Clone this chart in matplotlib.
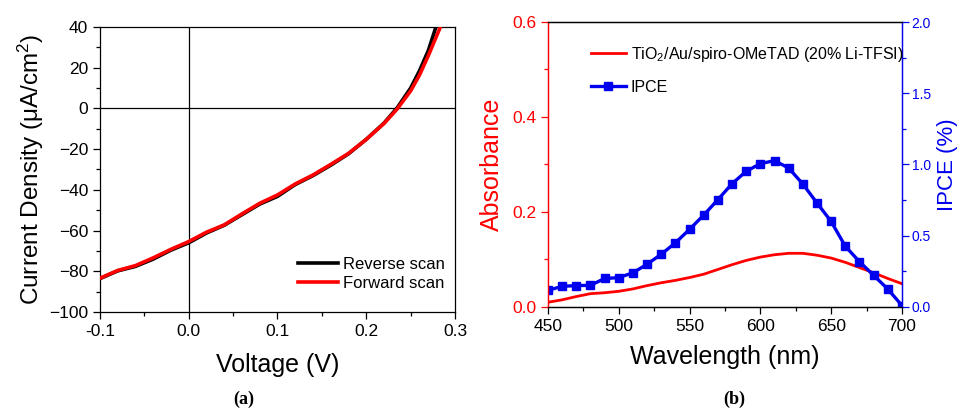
import numpy as np
import matplotlib
matplotlib.use("Agg")
import matplotlib.pyplot as plt
from matplotlib.ticker import MultipleLocator, FormatStrFormatter

plt.rcParams["font.family"] = ["Liberation Sans", "DejaVu Sans"]
plt.rcParams["mathtext.fontset"] = "custom"
plt.rcParams["mathtext.rm"] = "Liberation Sans"
plt.rcParams["mathtext.it"] = "Liberation Sans"

# (a) J-V curves
v_rev = [-0.1, -0.08, -0.06, -0.04, -0.02, 0.0, 0.02, 0.04, 0.06, 0.08, 0.10,
         0.12, 0.14, 0.16, 0.18, 0.20, 0.22, 0.235, 0.25, 0.26, 0.27, 0.2785]
j_rev = [-83.6, -79.8, -77.6, -74.0, -69.6, -66.0, -61.2, -57.4, -52.2, -47.0,
         -43.2, -37.4, -33.0, -27.9, -22.3, -15.2, -7.2, 0.4, 10.0, 18.5, 28.5, 40.0]
v_fwd = [-0.1, -0.08, -0.06, -0.04, -0.02, 0.0, 0.02, 0.04, 0.06, 0.08, 0.10,
         0.12, 0.14, 0.16, 0.18, 0.20, 0.22, 0.235, 0.25, 0.26, 0.27, 0.2835]
j_fwd = [-83.4, -79.6, -77.2, -73.4, -69.2, -65.4, -60.8, -57.2, -51.8, -46.6,
         -42.5, -37.1, -32.7, -27.5, -22.1, -15.2, -7.4, -0.2, 8.6, 16.4, 26.0, 40.0]

# (b) absorbance + IPCE
wavelength = list(range(450, 701, 10))
absorbance = [0.010, 0.015, 0.022, 0.028, 0.030, 0.033, 0.038, 0.045, 0.051,
              0.056, 0.062, 0.069, 0.079, 0.089, 0.098, 0.105, 0.110, 0.113,
              0.113, 0.109, 0.103, 0.094, 0.083, 0.072, 0.060, 0.049]
ipce = [0.117, 0.145, 0.150, 0.152, 0.200, 0.206, 0.240, 0.300, 0.370, 0.450,
        0.545, 0.645, 0.753, 0.865, 0.952, 1.006, 1.027, 0.975, 0.863, 0.730,
        0.600, 0.426, 0.318, 0.222, 0.126, 0.010]

fig = plt.figure(figsize=(9.63, 4.12), dpi=100)

# ---- panel a
ax1 = fig.add_axes([0.1038, 0.2427, 0.3687, 0.6918])
ax1.axhline(0, color="black", lw=0.9, zorder=1)
ax1.axvline(0, color="black", lw=0.9, zorder=1)
ax1.plot(v_rev, j_rev, color="black", lw=2.6, label="Reverse scan", zorder=3)
ax1.plot(v_fwd, j_fwd, color="#ff0000", lw=2.6, label="Forward scan", zorder=4)
ax1.set_xlim(-0.1, 0.3)
ax1.set_ylim(-100, 40)
ax1.xaxis.set_minor_locator(MultipleLocator(0.05))
ax1.yaxis.set_major_locator(MultipleLocator(20))
ax1.yaxis.set_minor_locator(MultipleLocator(10))
ax1.set_xticks([-0.1, 0.0, 0.1, 0.2, 0.3])
ax1.set_xticklabels(["-0.1", "0.0", "0.1", "0.2", "0.3"])
ax1.tick_params(which="both", direction="out", top=False, right=False,
                labelsize=12.5, width=0.9)
ax1.tick_params(which="major", length=5)
ax1.tick_params(which="minor", length=3)
ax1.set_xlabel("Voltage (V)", fontsize=18, labelpad=10)
ax1.set_ylabel(r"Current Density ($\mu$A/cm$^2$)", fontsize=17.5, labelpad=2)
for s in ax1.spines.values():
    s.set_linewidth(0.9)
ax1.legend(loc="lower right", bbox_to_anchor=(1.0, 0.04), frameon=False,
           fontsize=12, handlelength=2.4, handletextpad=0.3, labelspacing=0.2,
           borderaxespad=0.2)
fig.text(0.253, 0.02, "(a)", fontsize=13, fontweight="bold",
         family="Liberation Serif", ha="center")

# ---- panel b
ax2 = fig.add_axes([0.569, 0.2549, 0.3676, 0.6917])
ax3 = ax2.twinx()
red = "#ff0000"
blue = "#0000ee"
l1, = ax2.plot(wavelength, absorbance, color=red, lw=2.0,
               label=r"TiO$_2$/Au/spiro-OMeTAD (20% Li-TFSI)")
l2, = ax3.plot(wavelength, ipce, color=blue, lw=2.4, marker="s",
               markersize=6, label="IPCE")
ax2.set_xlim(450, 700)
ax2.set_ylim(0, 0.6)
ax3.set_ylim(0, 2.0)
ax2.xaxis.set_major_locator(MultipleLocator(50))
ax2.xaxis.set_minor_locator(MultipleLocator(25))
ax2.yaxis.set_major_locator(MultipleLocator(0.2))
ax2.yaxis.set_minor_locator(MultipleLocator(0.1))
ax3.yaxis.set_major_locator(MultipleLocator(0.5))
ax3.yaxis.set_minor_locator(MultipleLocator(0.25))
ax2.yaxis.set_major_formatter(FormatStrFormatter("%.1f"))
ax3.yaxis.set_major_formatter(FormatStrFormatter("%.1f"))
ax2.tick_params(which="both", direction="out", labelsize=12.5, width=0.9)
ax2.tick_params(axis="y", which="both", colors=red)
ax3.tick_params(which="both", direction="out", labelsize=10, width=0.9,
                colors=blue, pad=2)
for a in (ax2, ax3):
    a.tick_params(which="major", length=5)
    a.tick_params(which="minor", length=3)
    for s in a.spines.values():
        s.set_linewidth(0.9)
ax3.spines["left"].set_color(red)
ax3.spines["right"].set_color(blue)
ax2.spines["left"].set_color(red)
ax2.spines["right"].set_color(blue)
ax2.set_xlabel("Wavelength (nm)", fontsize=18, labelpad=8)
ax2.set_ylabel("Absorbance", fontsize=18, color=red, labelpad=6)
ax3.set_ylabel("IPCE (%)", fontsize=16, color=blue, labelpad=4)
ax3.legend([l1, l2], [l1.get_label(), l2.get_label()], loc="upper left",
           bbox_to_anchor=(0.08, 0.97), frameon=False, fontsize=11.5,
           handlelength=2.2, handletextpad=0.3, labelspacing=1.0)
fig.text(0.762, 0.02, "(b)", fontsize=13, fontweight="bold",
         family="Liberation Serif", ha="center")

fig.savefig("out.png", dpi=100)
